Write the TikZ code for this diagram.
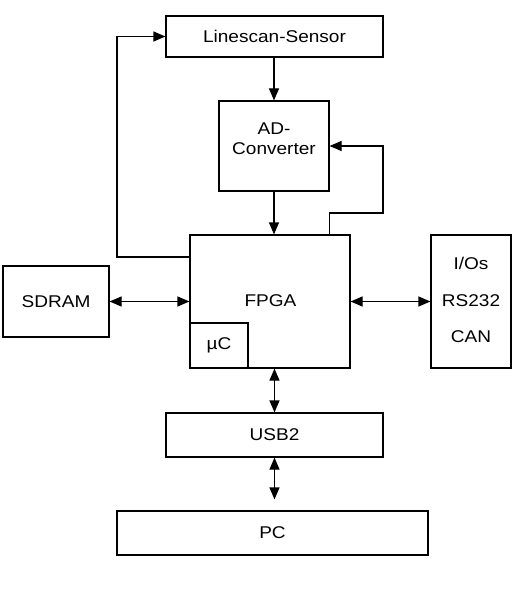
\documentclass[tikz,border=0pt]{standalone}
\usepackage{fontspec}
\setmainfont{Liberation Sans}[FakeStretch=1.12]
\usepackage{tikz}
\usetikzlibrary{arrows, arrows.meta, positioning, calc}
\tikzset{
	blk/.style={draw, line width=1.2pt, inner sep=0pt, font=\fontsize{17}{20}\selectfont},
	txt/.style={inner sep=0pt, font=\fontsize{17}{20}\selectfont},
	con/.style={line width=1.2pt, -{Triangle[length=12pt,width=10pt]}},
	bicon/.style={line width=1.2pt, {Triangle[length=12pt,width=10pt]}-{Triangle[length=12pt,width=10pt]}}
}
\begin{document}
\begin{tikzpicture}[x=1pt, y=-1pt]
					\useasboundingbox (0,0) rectangle (530,591);
					\node[blk, minimum width=217pt, minimum height=41pt] (sensor) at (274.5,36.5) {Linescan-Sensor};
					\node[blk, minimum width=110pt, minimum height=90pt] (adc) at (274,146) {};
					\node[txt, align=center] (adctext) at (274,139) {AD-\\Converter};
					\node[blk, minimum width=160pt, minimum height=133pt] (fpga) at (270,301.5) {};
					\node[txt] (fpgatext) at (270.5,301) {FPGA};
					\node[blk, minimum width=58pt, minimum height=45pt, anchor=south west] (uc) at (fpga.south west) {µC};
					\node[blk, minimum width=106pt, minimum height=71pt] (sdram) at (56,301.5) {SDRAM};
					\node[blk, minimum width=80pt, minimum height=133pt] (ios) at (471,301.5) {};
					\node[txt] (iostext) at (471,263) {I/Os};
					\node[txt] (rstext) at (471,301) {RS232};
					\node[txt] (cantext) at (471,337) {CAN};
					\node[blk, minimum width=217pt, minimum height=44pt] (usb) at (274.5,435) {USB2};
					\node[blk, minimum width=311pt, minimum height=44pt] (pc) at (272.5,533) {PC};
					\coordinate (lp) at (117,257);
					\coordinate (rp) at (383,213);
					\draw[con] (sensor.south -| adc.north) -- (adc.north);
					\draw[con] (adc.south) -- (adc.south |- fpga.north);
					\draw[con] (fpga.west |- lp) -- (lp) |- (sensor.west);
					\draw[con] (adc.south east |- fpga.north) |- (rp) |- (adc.east);
					\draw[bicon] (sdram.east) -- (fpga.west);
					\draw[bicon] (fpga.east) -- (ios.west);
					\draw[bicon] (usb.north |- fpga.south) -- (usb.north);
					\draw[bicon, shorten >=11pt] (usb.south) -- (usb.south |- pc.north);
\end{tikzpicture}
\end{document}
